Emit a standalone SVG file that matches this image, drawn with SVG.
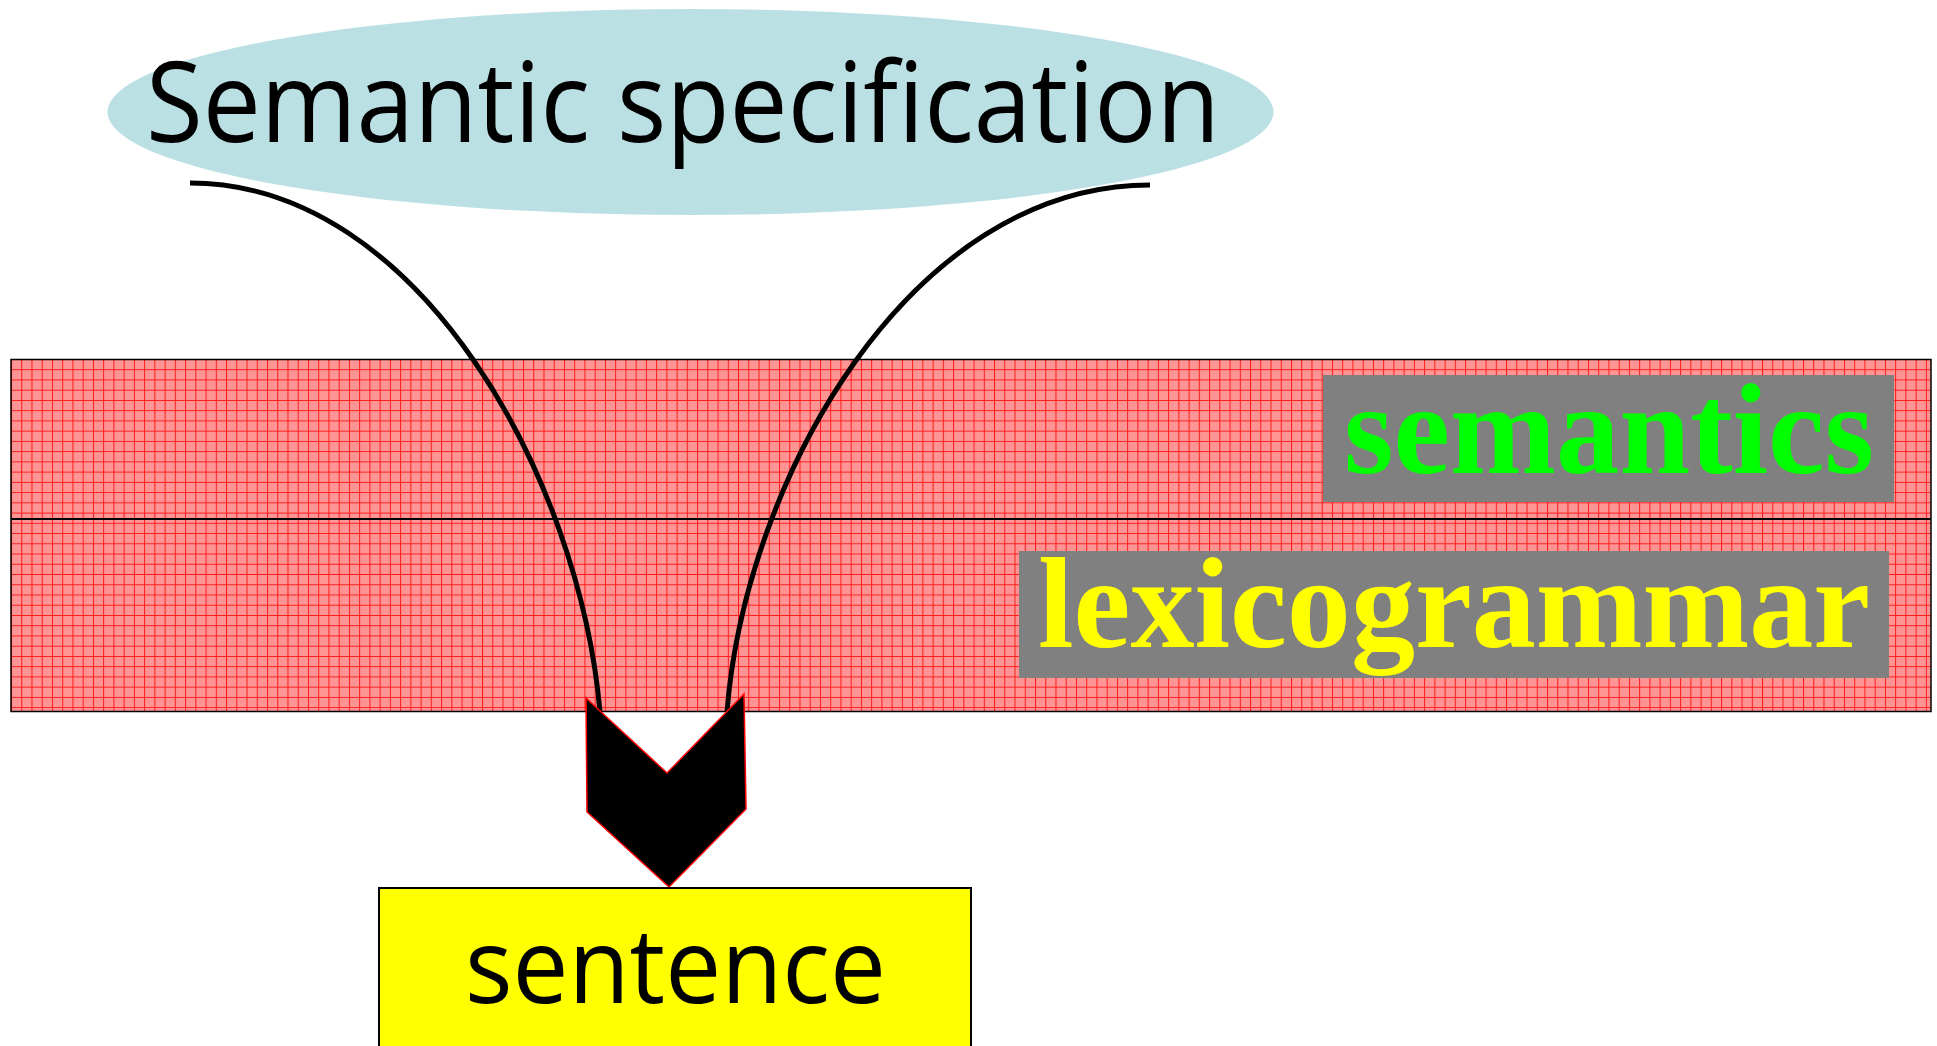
<svg xmlns="http://www.w3.org/2000/svg" width="1937" height="1046" viewBox="0 0 1937 1046">
<defs>
<pattern id="grid" patternUnits="userSpaceOnUse" x="11" y="359" width="10.24" height="10.24">
<rect width="10.24" height="10.24" fill="#ff9494"/>
<path d="M0.5 0 V10.24 M0 0.5 H10.24" stroke="#ff1a1a" stroke-width="1" fill="none"/>
</pattern>
</defs>
<style>
.hand { font-family: "Open Sans", "Noto Sans", "DejaVu Sans", sans-serif; font-weight: 400; fill: #000; }
.label { font-family: "Liberation Serif", "Times New Roman", serif; font-weight: bold; font-size: 130px; }
.box { fill: #808080; }
.curve { fill: none; stroke: #000; stroke-width: 5; }
</style>
<g id="band">
<rect x="11" y="359.5" width="1920" height="352" fill="url(#grid)" stroke="#000" stroke-width="1.5"/>
<line x1="11" y1="519" x2="1931" y2="519" stroke="#000" stroke-width="1.8"/>
</g>
<g id="semantics">
<rect class="box" x="1323" y="375" width="571" height="127"/>
<text class="label" x="1344" y="473" fill="#00ff00" textLength="530" lengthAdjust="spacingAndGlyphs">semantics</text>
</g>
<g id="lexicogrammar">
<rect class="box" x="1019" y="551" width="870" height="127"/>
<text class="label" x="1038" y="647" fill="#ffff00" textLength="832" lengthAdjust="spacingAndGlyphs">lexicogrammar</text>
</g>
<g id="semantic-specification">
<ellipse cx="690.5" cy="112" rx="583" ry="103" fill="#bbe0e3"/>
<text class="hand" x="146" y="142" font-size="112" textLength="1074" lengthAdjust="spacingAndGlyphs">Semantic specification</text>
</g>
<g id="connectors">
<path class="curve" d="M190,183 C420,183 580,480 600,712"/>
<path class="curve" d="M1150,185 C910,185 745,480 727,712"/>
<polygon points="586,698 667,773 744,694 746,809 669,887 587,812" fill="#000" stroke="#ff0000" stroke-width="1.5"/>
</g>
<g id="sentence">
<rect x="379" y="888" width="592" height="170" fill="#ffff00" stroke="#000" stroke-width="2"/>
<text class="hand" x="465" y="1003" font-size="104" textLength="421" lengthAdjust="spacingAndGlyphs">sentence</text>
</g>
</svg>
